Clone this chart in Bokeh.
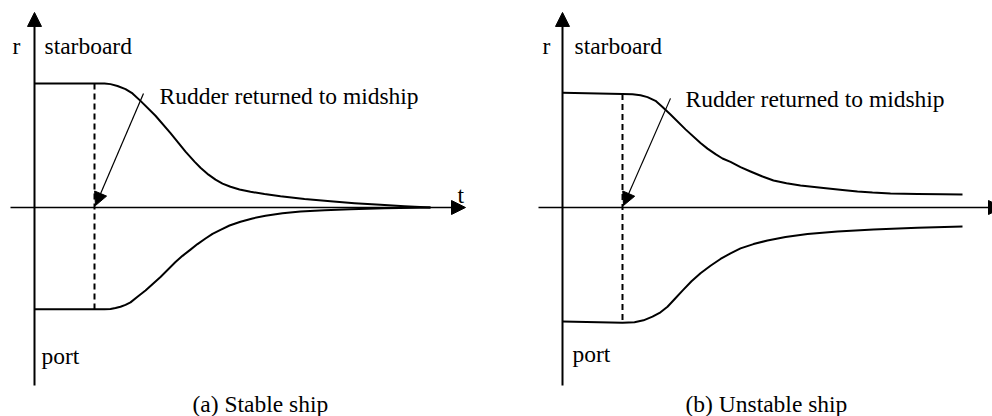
from bokeh.plotting import figure
from bokeh.layouts import row
from bokeh.models import Arrow, NormalHead, Range1d
from bokeh.core.properties import value
from bokeh.embed import file_html
from bokeh.resources import INLINE

# ---- (a) Stable ship: yaw rate r against time t after the rudder returns to midship
stable_t_upper = [0.0, 6.0, 7.0, 7.6, 8.3, 9.1, 9.8, 10.6, 12.1, 13.6, 15.1, 16.0, 16.6, 17.4,
                  18.1, 18.8, 19.6, 20.5, 21.6, 23.0, 24.6, 27.0, 29.6, 32.0, 34.6, 37.0, 39.6]
stable_r_upper = [1.0, 1.0, 1.0, 0.995, 0.98, 0.955, 0.92, 0.86, 0.74, 0.60, 0.45, 0.37, 0.32, 0.265,
                  0.225, 0.193, 0.167, 0.145, 0.127, 0.108, 0.09, 0.068, 0.05, 0.035, 0.022, 0.01, 0.0]
stable_t_lower = [0.0, 6.0, 7.0, 7.6, 8.1, 8.6, 9.1, 9.6, 10.3, 11.1, 12.6, 14.1, 14.8, 15.6, 16.3,
                  17.1, 17.8, 18.6, 19.5, 20.6, 21.8, 23.1, 24.8, 26.6, 29.0, 31.6, 35.0, 39.6]
stable_r_lower = [-0.82, -0.82, -0.82, -0.818, -0.81, -0.80, -0.785, -0.765, -0.72, -0.67, -0.56,
                  -0.44, -0.39, -0.34, -0.295, -0.25, -0.213, -0.18, -0.145, -0.115, -0.088,
                  -0.066, -0.046, -0.032, -0.022, -0.015, -0.007, 0.0]

# ---- (b) Unstable ship: r settles to a non-zero value
unstable_t_upper = [0.0, 6.0, 7.0, 7.8, 8.5, 9.3, 10.0, 10.8, 12.3, 13.8, 14.5, 15.3, 16.0, 16.8,
                    17.8, 18.8, 20.0, 21.1, 22.4, 23.8, 26.1, 28.0, 29.5, 31.0, 32.8, 35.5, 38.0, 40.0]
unstable_r_upper = [0.925, 0.915, 0.913, 0.905, 0.89, 0.86, 0.81, 0.75, 0.63, 0.52, 0.475, 0.43,
                    0.395, 0.368, 0.325, 0.29, 0.25, 0.218, 0.195, 0.178, 0.157, 0.141, 0.129,
                    0.12, 0.113, 0.109, 0.106, 0.105]
unstable_t_lower = [0.0, 6.0, 7.2, 8.1, 9.0, 9.8, 10.5, 11.2, 12.0, 12.9, 13.8, 14.8, 15.8, 16.8,
                    17.8, 19.1, 20.5, 22.3, 24.5, 27.5, 31.1, 35.5, 40.0]
unstable_r_lower = [-0.92, -0.93, -0.925, -0.91, -0.88, -0.845, -0.80, -0.74, -0.67, -0.595,
                    -0.53, -0.47, -0.415, -0.37, -0.33, -0.295, -0.266, -0.238, -0.213, -0.193,
                    -0.177, -0.164, -0.153]

# instant at which the rudder is put back to midship
t_midship = 6.0

FONT = value("Liberation Serif")
FS = "23.5px"


def make_panel(t_axis_origin_px, t_up, r_up, t_lo, r_lo, x_arrow_end, labels, pointer):
    p = figure(width=496, height=416, output_backend="svg", toolbar_location=None,
               x_range=Range1d(-t_axis_origin_px / 10.0, (496 - t_axis_origin_px) / 10.0),
               y_range=Range1d(-209 / 124.0, 207 / 124.0),
               min_border=0, min_border_left=0, min_border_right=0,
               min_border_top=0, min_border_bottom=0)
    p.xaxis.visible = False
    p.yaxis.visible = False
    p.grid.visible = False
    p.outline_line_color = None
    p.background_fill_color = "white"
    p.border_fill_color = "white"

    # coordinate axes with arrow heads
    p.add_layout(Arrow(x_start=0, y_start=-1.435, x_end=0, y_end=1.573,
                       line_width=2, line_color="black",
                       end=NormalHead(size=14, fill_color="black", line_color="black", line_width=1)))
    p.add_layout(Arrow(x_start=-2.4, y_start=0, x_end=x_arrow_end, y_end=0,
                       line_width=1.5, line_color="black",
                       end=NormalHead(size=14, fill_color="black", line_color="black", line_width=1)))

    # time at which the rudder is returned
    p.line([t_midship, t_midship], [r_up[1], r_lo[1]], line_color="black",
           line_width=2, line_dash="6 4")

    # starboard and port turning responses
    p.line(t_up, r_up, line_color="black", line_width=2, line_join="round")
    p.line(t_lo, r_lo, line_color="black", line_width=2, line_join="round")

    # pointer to the midship instant
    (xs, ys, xe, ye) = pointer
    p.add_layout(Arrow(x_start=xs, y_start=ys, x_end=xe, y_end=ye,
                       line_width=1.2, line_color="black",
                       end=NormalHead(size=13, fill_color="black", line_color="black", line_width=1)))

    lx, ly, lt = zip(*labels)
    p.text(x=list(lx), y=list(ly), text=list(lt), text_font=FONT, text_font_size=FS,
           text_color="black", text_align="left", text_baseline="alphabetic")
    return p


left = make_panel(34, stable_t_upper, stable_r_upper, stable_t_lower, stable_r_lower, 43.1,
                  [(-2.2, 1.306, "r"), (1.0, 1.306, "starboard"), (0.7, -1.194, "port"),
                   (42.3, 0.097, "t"), (12.5, 0.903, "Rudder returned to midship"),
                   (15.8, -1.581, "(a) Stable ship")],
                  (10.9, 0.92, 6.1, 0.016))

right = make_panel(66, unstable_t_upper, unstable_r_upper, unstable_t_lower, unstable_r_lower, 44.0,
                   [(-2.0, 1.306, "r"), (1.2, 1.306, "starboard"), (1.0, -1.185, "port"),
                    (12.3, 0.871, "Rudder returned to midship"),
                    (12.3, -1.581, "(b) Unstable ship")],
                   (10.8, 0.88, 6.1, 0.016))

layout = row(left, right, spacing=0)
open("out.html", "w").write(file_html(layout, INLINE))
